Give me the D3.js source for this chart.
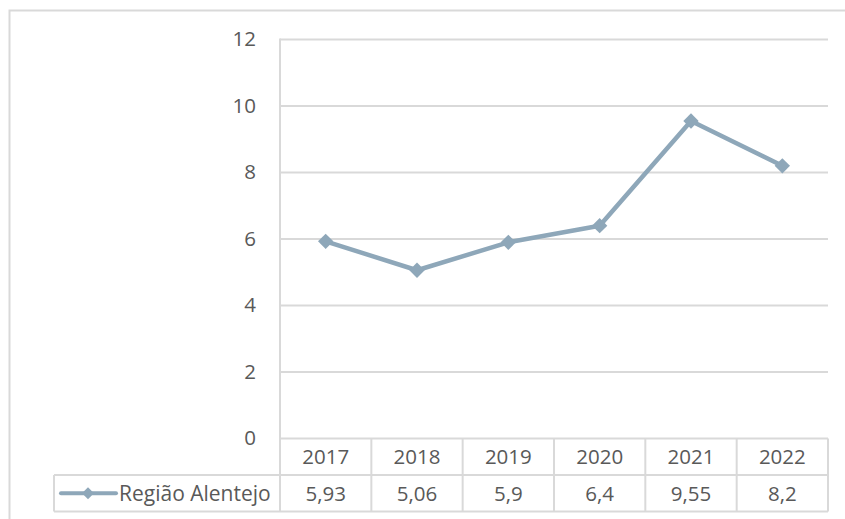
<!DOCTYPE html>
<html>
<head>
<meta charset="utf-8">
<script src="https://cdn.jsdelivr.net/npm/d3@7"></script>
<style>
  html, body { margin: 0; padding: 0; background: #fff; }
  svg { display: block; }
  text { font-family: "Open Sans", "Noto Sans", sans-serif; fill: #595959; }
</style>
</head>
<body>
<svg id="chart" width="845" height="519"></svg>
<script>
// Series data
const years = ["2017", "2018", "2019", "2020", "2021", "2022"];
const values = [5.93, 5.06, 5.9, 6.4, 9.55, 8.2];
const valueLabels = ["5,93", "5,06", "5,9", "6,4", "9,55", "8,2"];
const seriesName = "Região Alentejo";
const yTicks = [0, 2, 4, 6, 8, 10, 12];

const lineColor = "#8ea7b9";
const gridColor = "#d9d9d9";
const fontSize = 20.5;

const svg = d3.select("#chart");

// Outer chart frame
svg.append("path")
  .attr("d", "M9.5,519 V10.5 H845")
  .attr("fill", "none")
  .attr("stroke", gridColor)
  .attr("stroke-width", 2);

const plot = { left: 280, right: 828, top: 39.5, bottom: 438.5 };
const rowH = 36.5;

const x = d3.scaleBand().domain(years).range([plot.left, plot.right]);
const y = d3.scaleLinear().domain([0, 12]).range([plot.bottom, plot.top]);

// Horizontal gridlines
svg.append("g")
  .selectAll("line")
  .data(yTicks.filter(d => d > 0))
  .join("line")
  .attr("x1", plot.left).attr("x2", plot.right)
  .attr("y1", d => y(d)).attr("y2", d => y(d))
  .attr("stroke", gridColor).attr("stroke-width", 2);

// Y axis labels
const yAxis = d3.axisLeft(y).tickValues(yTicks).tickSize(0).tickPadding(0)
  .tickFormat(d3.format("d"));
const yg = svg.append("g").attr("transform", `translate(${256},0)`).call(yAxis);
yg.select(".domain").remove();
yg.selectAll("text")
  .attr("font-size", fontSize)
  .attr("fill", "#595959")
  .attr("font-family", "\"Open Sans\", sans-serif")
  .attr("dy", "0.3em");

// Vertical axis line
svg.append("line")
  .attr("x1", plot.left).attr("x2", plot.left)
  .attr("y1", plot.top - 1).attr("y2", plot.bottom + 2 * rowH)
  .attr("stroke", gridColor).attr("stroke-width", 2);

// Data table
const table = svg.append("g");
const rows = [plot.bottom, plot.bottom + rowH, plot.bottom + 2 * rowH];
table.append("line").attr("x1", plot.left).attr("x2", plot.right)
  .attr("y1", rows[0]).attr("y2", rows[0]).attr("stroke", gridColor).attr("stroke-width", 2);
table.append("line").attr("x1", 54).attr("x2", plot.right)
  .attr("y1", rows[1]).attr("y2", rows[1]).attr("stroke", gridColor).attr("stroke-width", 2);
table.append("line").attr("x1", 54).attr("x2", plot.right)
  .attr("y1", rows[2]).attr("y2", rows[2]).attr("stroke", gridColor).attr("stroke-width", 2);
// Legend cell left edge
table.append("line").attr("x1", 54).attr("x2", 54)
  .attr("y1", rows[1]).attr("y2", rows[2]).attr("stroke", gridColor).attr("stroke-width", 2);
// Column separators
table.selectAll("line.col")
  .data(years)
  .join("line")
  .attr("class", "col")
  .attr("x1", d => x(d) + x.bandwidth()).attr("x2", d => x(d) + x.bandwidth())
  .attr("y1", rows[0]).attr("y2", rows[2])
  .attr("stroke", gridColor).attr("stroke-width", 2);

// Category labels
table.selectAll("text.year")
  .data(years)
  .join("text")
  .attr("class", "year")
  .attr("x", d => x(d) + x.bandwidth() / 2)
  .attr("y", (rows[0] + rows[1]) / 2)
  .attr("dy", "0.36em")
  .attr("text-anchor", "middle")
  .attr("font-size", fontSize)
  .text(d => d);

// Value labels
table.selectAll("text.val")
  .data(years)
  .join("text")
  .attr("class", "val")
  .attr("x", d => x(d) + x.bandwidth() / 2)
  .attr("y", (rows[1] + rows[2]) / 2)
  .attr("dy", "0.36em")
  .attr("text-anchor", "middle")
  .attr("font-size", fontSize)
  .text((d, i) => valueLabels[i]);

// Legend key
const keyY = (rows[1] + rows[2]) / 2;
table.append("line")
  .attr("x1", 61).attr("x2", 116).attr("y1", keyY).attr("y2", keyY)
  .attr("stroke", lineColor).attr("stroke-width", 4).attr("stroke-linecap", "round");
table.append("path")
  .attr("d", d3.symbol(d3.symbolDiamond2, 90)())
  .attr("transform", `translate(88,${keyY})`)
  .attr("fill", lineColor);
table.append("text")
  .attr("x", 119).attr("y", keyY).attr("dy", "0.36em")
  .attr("font-size", 21)
  .text(seriesName);

// Series line
const pts = years.map((d, i) => [x(d) + x.bandwidth() / 2, y(values[i])]);
svg.append("path")
  .attr("d", d3.line()(pts))
  .attr("fill", "none")
  .attr("stroke", lineColor)
  .attr("stroke-width", 4.5)
  .attr("stroke-linejoin", "round");

svg.append("g")
  .selectAll("path")
  .data(pts)
  .join("path")
  .attr("d", d3.symbol(d3.symbolDiamond2, 150)())
  .attr("transform", d => `translate(${d[0]},${d[1]})`)
  .attr("fill", lineColor);
</script>
</body>
</html>
